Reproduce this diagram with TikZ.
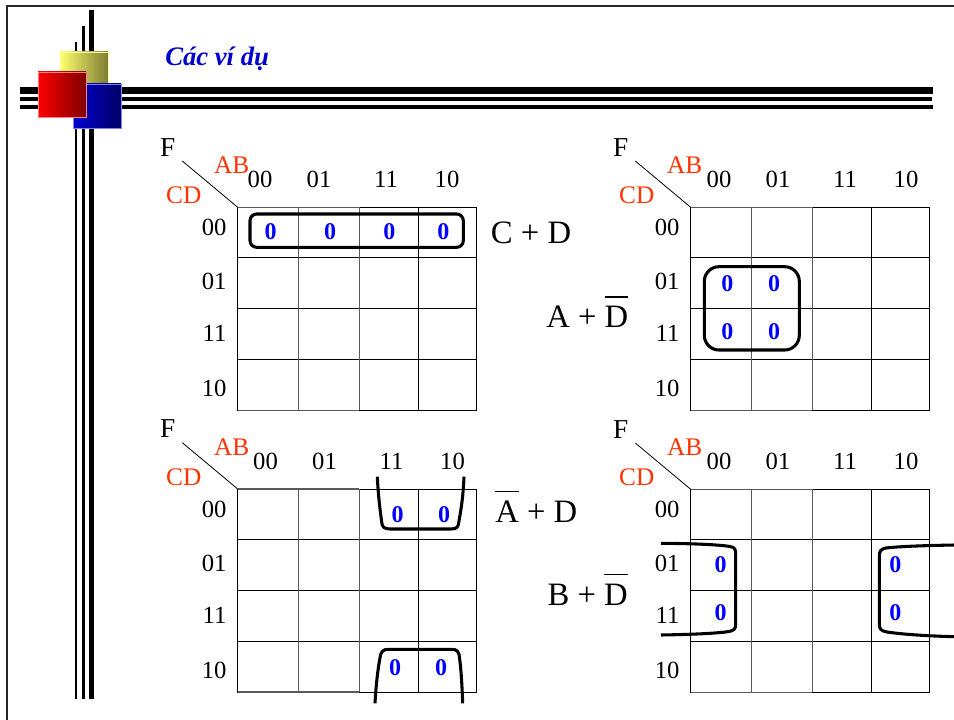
\documentclass[tikz,border=0pt]{standalone}
\usepackage{fontspec}
\setmainfont{Liberation Serif}
\definecolor{labred}{RGB}{255,51,0}
\definecolor{zeroblue}{RGB}{0,0,255}
\definecolor{titleblue}{RGB}{0,0,204}
\definecolor{gridgray}{RGB}{90,90,90}
\definecolor{yelL}{RGB}{255,255,110}
\definecolor{yelR}{RGB}{125,125,50}
\definecolor{redL}{RGB}{255,0,0}
\definecolor{redR}{RGB}{125,0,0}
\definecolor{bluL}{RGB}{0,0,210}
\definecolor{bluR}{RGB}{0,0,100}
\newcommand\ovl[1]{\vbox{\hrule height 1pt\kern 6.5pt\hbox{#1}}}
\tikzset{
  gridline/.style={line width=0.75pt, black},
  gridgrayline/.style={line width=0.8pt, gridgray},
  lbl/.style={inner sep=0pt, font=\fontsize{18.5}{20}\selectfont},
  redlbl/.style={inner sep=0pt, text=labred, font=\fontsize{19}{20}\selectfont},
  zero/.style={inner sep=0pt, text=zeroblue, font=\fontsize{18}{20}\selectfont\bfseries},
  grp/.style={line width=2.3pt, black},
  expr/.style={inner sep=0pt, anchor=base west, font=\fontsize{24.5}{26}\selectfont},
}
\newcommand\KMap[4]{%
  \begin{scope}[shift={(#2,#3)}]
    \draw[gridline] (0,0) rectangle (238.5,203);
    \draw[gridline] (0,50.5) -- (238.5,50.5) (0,101.5) -- (238.5,101.5)
      (0,152.3) -- (238.5,152.3) (181,0) -- (181,203);
    \draw[gridgrayline] (0,0) -- (121.5,0) (0,203) -- (121.5,203)
      (60.7,0) -- (60.7,203) (121.5,0) -- (121.5,203);
    \coordinate (#1c) at (0,0);
    \node[lbl, font=\fontsize{20.5}{22}\selectfont] (#1F) at (-70,-60) {F};
    \coordinate (#1d) at (-55.4,-46.3);
    \draw[line width=0.6pt] (#1d) -- (#1c);
    \node[redlbl] (#1AB) at (-6,-42) {AB};
    \node[redlbl] (#1CD) at (-54,-12) {CD};
    \node[lbl] (#1h1) at (#4+22.3,-28) {00};
    \node[lbl] (#1h2) at (#4+81.3,-28) {01};
    \node[lbl] (#1h3) at (#4+148.3,-28) {11};
    \node[lbl] (#1h4) at (#4+209.3,-28) {10};
    \node[lbl, anchor=east] (#1r1) at (-11,20) {00};
    \node[lbl, anchor=east] (#1r2) at (-11,74) {01};
    \node[lbl, anchor=east] (#1r3) at (-11,126) {11};
    \node[lbl, anchor=east] (#1r4) at (-11,181) {10};
  \end{scope}}
\begin{document}
\begin{tikzpicture}[x=0.75pt, y=-0.75pt]
\useasboundingbox (0,0) rectangle (954,720);
\fill[white] (0,0) rectangle (954,720);
% frame
\fill[black!85] (6,5) rectangle (954,7.3);
\fill[black!85] (6,5) rectangle (8.3,720);
% decoration lines
\fill (75,42) rectangle (77.3,699);
\fill (81.7,26) rectangle (85.3,699);
\fill (89,10) rectangle (94,699);
\fill (20,87) rectangle (933,94);
\fill (20,97) rectangle (932,101);
\fill (20,105) rectangle (933,109);
% squares
\shade[left color=yelL, right color=yelR, draw=yelL!70!white, line width=0.6pt] (60,52) rectangle (108,84);
\shade[left color=bluL, right color=bluR, draw=blue!50!white, line width=0.6pt] (73,84) rectangle (121,128);
\shade[left color=redL, right color=redR, draw=red!50!white, line width=0.6pt] (38,72) rectangle (86,117);
% title
\node[anchor=base west, inner sep=0pt, text=titleblue, font=\fontsize{20}{22}\selectfont\bfseries\itshape] (title) at (165,65.7) {Các ví dụ};
% maps
\KMap{ma}{237.7}{207.3}{0}
\KMap{mb}{690.7}{207.3}{6}
\KMap{mc}{237.7}{489}{5.5}
\KMap{md}{690.7}{489.3}{6}
% zeros map a
\node[zero] (za1) at (270.7,231.7) {0};
\node[zero] (za2) at (330,231.7) {0};
\node[zero] (za3) at (389.3,231.7) {0};
\node[zero] (za4) at (443.3,231.7) {0};
\draw[grp, rounded corners=5pt] (250,214) rectangle (463.3,247.3);
% zeros map b
\node[zero] (zb1) at (727.3,284) {0};
\node[zero] (zb2) at (774,284) {0};
\node[zero] (zb3) at (727.3,331.7) {0};
\node[zero] (zb4) at (774,331.7) {0};
\draw[grp, rounded corners=11pt] (704.3,266.7) rectangle (799.3,350);
% zeros map c
\node[zero] (zc1) at (397.7,514.3) {0};
\node[zero] (zc2) at (444,514.3) {0};
\node[zero] (zc3) at (395,667.3) {0};
\node[zero] (zc4) at (441,667.3) {0};
\draw[grp] (377.3,476.7) .. controls (378.5,500) and (380.5,512) .. (381.5,521)
  .. controls (382,527) and (384,529) .. (390,529) -- (451,529)
  .. controls (457,529) and (458.5,527) .. (459,521)
  .. controls (460.5,512) and (463,500) .. (464,476.7);
\draw[grp] (375,703.3) .. controls (376,685) and (378,668) .. (380,658)
  .. controls (381,651) and (383,649.3) .. (389,649.3) -- (451,649.3)
  .. controls (457,649.3) and (459,651) .. (459.5,658)
  .. controls (461,668) and (462,685) .. (462.7,703.3);
% zeros map d
\node[zero] (zd1) at (720.7,565) {0};
\node[zero] (zd2) at (720.7,612.3) {0};
\node[zero] (zd3) at (895.3,565) {0};
\node[zero] (zd4) at (895.3,612.3) {0};
\draw[grp] (661,543.3) .. controls (690,543.5) and (718,544.5) .. (730,546.5)
  .. controls (735,547.5) and (735.7,549) .. (735.7,555) -- (735.7,624)
  .. controls (735.7,629) and (734,630.5) .. (729,631.5)
  .. controls (716,633.5) and (690,634.5) .. (661,635);
\draw[grp] (955,545) .. controls (925,545.5) and (898,546.5) .. (886,548)
  .. controls (881,549) and (879.3,551) .. (879.3,556) -- (879.3,624)
  .. controls (879.3,629) and (881,631) .. (887,632)
  .. controls (900,634) and (925,636) .. (955,636.7);
% expressions
\node[expr] (ea) at (490.7,244) {C + D};
\node[expr] (eb) at (546,327.7) {A + \ovl{D}};
\node[expr] (ec) at (495,522.7) {\ovl{A} + D};
\node[expr] (ed) at (547.3,605) {B + \ovl{D}};
\end{tikzpicture}
\end{document}
